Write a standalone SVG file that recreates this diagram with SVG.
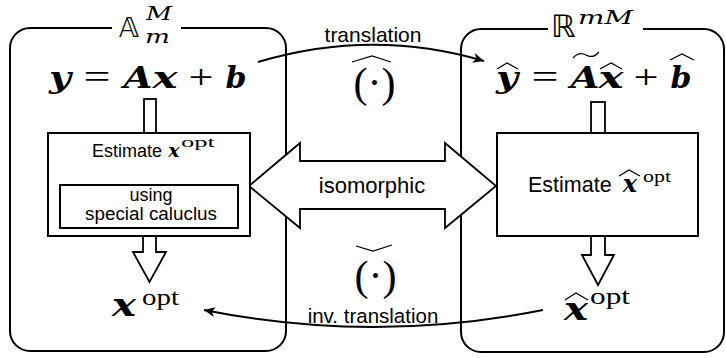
<svg xmlns="http://www.w3.org/2000/svg" width="726" height="358" viewBox="0 0 726 358">
<style>
.frame{fill:none;stroke:#000;stroke-width:2}
.box{fill:#fff;stroke:#000;stroke-width:2}
.blk{fill:#fff;stroke:#000;stroke-width:1.8;stroke-linejoin:miter}
.curve{fill:none;stroke:#000;stroke-width:2}
.acc{fill:none;stroke:#000;stroke-width:1.3;stroke-linejoin:miter}
.sans{font-family:"Liberation Sans",Arial,sans-serif;fill:#000}
.mid{text-anchor:middle}
.mb{font-family:"DejaVu Serif",serif;font-weight:bold;font-style:italic;text-anchor:middle}
.op{font-family:"Liberation Serif",serif;text-anchor:middle}
.rm{font-family:"Liberation Serif",serif}
.it{font-family:"DejaVu Serif",serif;font-style:italic}
.bb{font-family:"DejaVu Sans",sans-serif}
</style>
<defs>
<marker id="tip" viewBox="-2 -6 14 12" markerWidth="14" markerHeight="12" refX="10" refY="0" orient="auto" markerUnits="userSpaceOnUse">
<path d="M-1,-5 L10,0 L-1,5 L2,0 z" fill="#000"/>
</marker>
</defs>

<!-- space A_m^M -->
<g id="space-a">
<rect class="frame" x="10" y="28" width="276" height="323" rx="20" ry="20"/>
<rect x="112" y="20" width="69" height="16" fill="#fff"/>
<text class="bb" x="119" y="37" font-size="27">𝔸</text>
<text class="it" x="146" y="20" font-size="19" textLength="26" lengthAdjust="spacingAndGlyphs">M</text>
<text class="it" x="145" y="43" font-size="19" textLength="25" lengthAdjust="spacingAndGlyphs">m</text>
</g>

<!-- space R^{mM} -->
<g id="space-r">
<rect class="frame" x="461" y="29" width="263" height="323" rx="20" ry="20"/>
<rect x="548" y="20" width="95" height="16" fill="#fff"/>
<text class="bb" x="551" y="37" font-size="31">ℝ</text>
<text class="it" x="578" y="24" font-size="19" textLength="55" lengthAdjust="spacingAndGlyphs">mM</text>
</g>

<!-- connectors -->
<g id="connectors">
<path class="curve" d="M258,62 Q372,28 484,61" marker-end="url(#tip)"/>
<path class="curve" d="M543,310 Q373,344 204,310" marker-end="url(#tip)"/>
<polygon class="blk" points="249,186 300,143 300,161 445,161 445,143 496,186 445,228 445,209 300,209 300,228"/>
<rect class="blk" x="144" y="99" width="12" height="34"/>
<rect class="blk" x="591" y="102" width="14" height="31"/>
<polygon class="blk" points="143,236 143,252 133,252 149.5,282 166,252 156,252 156,236"/>
<polygon class="blk" points="591,236 591,255 582,255 598,285 614,255 605,255 605,236"/>
</g>

<!-- labels on connectors -->
<g id="translation-label">
<text class="sans mid" x="373" y="42" font-size="21">translation</text>
<polyline class="acc" points="352,62 372,56 391,62"/>
<text class="rm" x="353.5" y="97" font-size="42">(·)</text>
</g>
<g id="inverse-label">
<polyline class="acc" points="356,246 373,251 392,245"/>
<text class="rm" x="354.5" y="290" font-size="42">(·)</text>
<text class="sans mid" x="373" y="323" font-size="20.5">inv. translation</text>
</g>
<g id="isomorphic-label">
<text class="sans mid" x="372" y="193" font-size="22">isomorphic</text>
</g>

<!-- y = Ax + b -->
<g id="eq-a">
<text class="mb" x="60" y="88" font-size="30" textLength="22" lengthAdjust="spacingAndGlyphs">y</text>
<text class="op" x="97" y="88" font-size="34" textLength="27" lengthAdjust="spacingAndGlyphs">=</text>
<text class="mb" x="138" y="88" font-size="30" textLength="29" lengthAdjust="spacingAndGlyphs">A</text>
<text class="mb" x="165" y="88" font-size="30" textLength="25" lengthAdjust="spacingAndGlyphs">x</text>
<text class="op" x="201" y="88" font-size="34" textLength="25" lengthAdjust="spacingAndGlyphs">+</text>
<text class="mb" x="236" y="88" font-size="30" textLength="21" lengthAdjust="spacingAndGlyphs">b</text>
</g>

<!-- hat y = tilde A hat x + hat b -->
<g id="eq-r">
<text class="mb" x="507" y="88" font-size="30" textLength="22" lengthAdjust="spacingAndGlyphs">y</text>
<polyline class="acc" points="497,69 507,63 518,69"/>
<text class="op" x="545" y="88" font-size="34" textLength="27" lengthAdjust="spacingAndGlyphs">=</text>
<text class="mb" x="585" y="88" font-size="30" textLength="29" lengthAdjust="spacingAndGlyphs">A</text>
<path class="acc" d="M573,58 Q579,51 586,55 T599,52"/>
<text class="mb" x="611" y="88" font-size="30" textLength="25" lengthAdjust="spacingAndGlyphs">x</text>
<polyline class="acc" points="600,69 611,63 622,69"/>
<text class="op" x="646" y="88" font-size="34" textLength="25" lengthAdjust="spacingAndGlyphs">+</text>
<text class="mb" x="681" y="88" font-size="30" textLength="21" lengthAdjust="spacingAndGlyphs">b</text>
<polyline class="acc" points="670,60 682,54 694,60"/>
</g>

<!-- estimation in A -->
<g id="estimate-a">
<rect class="box" x="48" y="133" width="202" height="103"/>
<text class="sans" x="92" y="157" font-size="18">Estimate</text>
<text class="mb" x="174" y="157" font-size="19">x</text>
<text class="rm" x="181" y="147" font-size="15" textLength="34" lengthAdjust="spacingAndGlyphs">opt</text>
</g>
<g id="calculus">
<rect class="box" x="60" y="185" width="178" height="43"/>
<text class="sans mid" x="151" y="201" font-size="18">using</text>
<text class="sans mid" x="151" y="220" font-size="18" textLength="132" lengthAdjust="spacingAndGlyphs">special caluclus</text>
</g>

<!-- estimation in R -->
<g id="estimate-r">
<rect class="box" x="497" y="133" width="201" height="103"/>
<text class="sans" x="528" y="192" font-size="21.5">Estimate</text>
<text class="mb" x="630" y="192" font-size="24">x</text>
<polyline class="acc" points="619,176 629,170 640,176"/>
<text class="rm" x="643" y="182" font-size="17" textLength="28" lengthAdjust="spacingAndGlyphs">opt</text>
</g>

<!-- results -->
<g id="result-a">
<text class="mb" x="124" y="316" font-size="31" textLength="24" lengthAdjust="spacingAndGlyphs">x</text>
<text class="rm" x="142" y="305" font-size="23" textLength="37" lengthAdjust="spacingAndGlyphs">opt</text>
</g>
<g id="result-r">
<text class="mb" x="576" y="320" font-size="31" textLength="24" lengthAdjust="spacingAndGlyphs">x</text>
<polyline class="acc" points="565,300 576,293 588,300"/>
<text class="rm" x="590" y="304" font-size="23" textLength="40" lengthAdjust="spacingAndGlyphs">opt</text>
</g>
</svg>
